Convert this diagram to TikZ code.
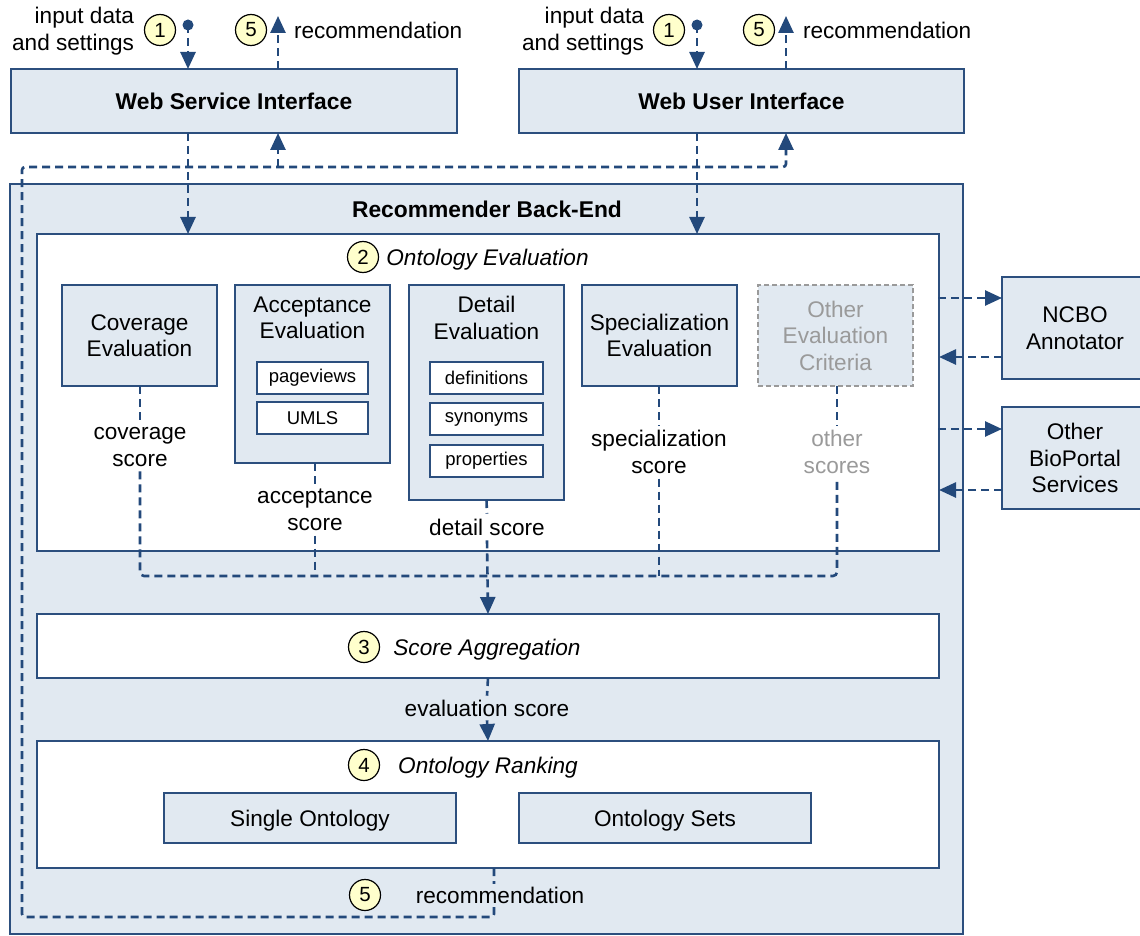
\documentclass[tikz,border=0pt]{standalone}
\usepackage{fontspec}
\setmainfont{Liberation Sans}
\usetikzlibrary{arrows.meta,calc}
\definecolor{bfill}{HTML}{E1E9F1}
\definecolor{bdr}{HTML}{2C4F7E}
\definecolor{arr}{HTML}{23497B}
\definecolor{numfill}{HTML}{FFFFCC}
\definecolor{grayt}{HTML}{9A9A9A}
\newcommand\fm{\fontsize{22.6}{26.5}\selectfont}
\newcommand\fb{\fontsize{22.8}{26.5}\selectfont\bfseries}
\newcommand\fsm{\fontsize{18.5}{22}\selectfont}
\begin{document}
\begin{tikzpicture}[x=1pt,y=-1pt,
  every node/.style={inner sep=0pt,outer sep=0pt},
  obox/.style={draw=bdr,fill=bfill,line width=2.4pt,anchor=north west,font=\fb},
  wbox/.style={draw=bdr,fill=white,line width=1.5pt,anchor=north west},
  gbox/.style={draw=bdr,fill=bfill,line width=1.5pt,anchor=north west,align=center,font=\fm},
  sbox/.style={draw=bdr,fill=white,line width=1.5pt,anchor=north west,font=\fsm,minimum height=32},
  num/.style={circle,draw=black,fill=numfill,line width=1.2pt,minimum size=31,font=\fontsize{20.5}{22}\selectfont},
  lbl/.style={align=center,font=\fm,inner sep=5pt},
  conn/.style={draw=arr,line width=2.6pt,dash pattern=on 8pt off 5pt},
  tip/.style={-{Triangle[width=15pt,length=17pt]}}
]
\useasboundingbox (0,0) rectangle (1140,936);

% top interfaces
\node[obox,minimum width=446,minimum height=64] (wsi) at (11,69) {Web Service Interface};
\node[obox,minimum width=445,minimum height=64] (wui) at (519,69) {Web User Interface};

% back-end
\node[obox,minimum width=953,minimum height=750] (be) at (10,184) {};
\node[font=\fb] (betitle) at (487,209) {Recommender Back-End};

% ontology evaluation
\node[wbox,minimum width=902,minimum height=317] (oe) at (37,234) {};
\node[num] (n2) at (363,257) {2};
\node[font=\fm\itshape] (oet) at (487.5,260) {Ontology Evaluation};

\node[gbox,minimum width=155,minimum height=101] (cov) at (62,285) {Coverage\\Evaluation};
\node[gbox,minimum width=155,minimum height=178] (acc) at (235,285) {};
\node[align=center,font=\fm] (acct) at (312.5,318) {Acceptance\\Evaluation};
\node[sbox,minimum width=111] (pv) at (257,362) {pageviews};
\node[sbox,minimum width=111] (umls) at (257,402) {UMLS};
\node[gbox,minimum width=155,minimum height=215] (det) at (409,285) {};
\node[align=center,font=\fm] (dett) at (486.5,318) {Detail\\Evaluation};
\node[sbox,minimum width=113] (defs) at (430,362) {definitions};
\node[sbox,minimum width=113] (syn) at (430,403) {synonyms};
\node[sbox,minimum width=113] (prop) at (430,445) {properties};
\node[gbox,minimum width=155,minimum height=101] (spec) at (582,285) {Specialization\\Evaluation};
\node[gbox,draw=grayt,dash pattern=on 5pt off 3pt,text=grayt,minimum width=155,minimum height=101] (oth) at (758,285) {Other\\Evaluation\\Criteria};

\node[lbl] (covl) at (140,447) {coverage\\score};
\node[lbl] (accl) at (315,510) {acceptance\\score};
\node[lbl] (detl) at (487,527) {detail score};
\node[lbl] (spl) at (659,452) {specialization\\score};
\node[lbl,text=grayt] (othl) at (837,452) {other\\scores};

% aggregation and ranking
\node[wbox,minimum width=902,minimum height=64] (agg) at (37,614) {};
\node[num] (n3) at (364,647) {3};
\node[font=\fm\itshape] (aggt) at (487,650) {Score Aggregation};
\node[lbl,fill=bfill,inner sep=4pt] (evl) at (487,708) {evaluation score};
\node[wbox,minimum width=902,minimum height=127] (rank) at (37,741) {};
\node[num] (n4) at (364,765) {4};
\node[font=\fm\itshape] (rankt) at (488,768) {Ontology Ranking};
\node[gbox,text depth=0pt,minimum width=292,minimum height=50] (single) at (164,793) {Single Ontology};
\node[gbox,text depth=0pt,minimum width=292,minimum height=50] (sets) at (519,793) {Ontology Sets};

% external services
\node[obox,font=\fm,align=center,minimum width=146,minimum height=102] (ncbo) at (1002,277) {NCBO\\Annotator};
\node[obox,font=\fm,align=center,minimum width=146,minimum height=102] (obs) at (1002,407) {Other\\BioPortal\\Services};

% top labels
\node[anchor=east,align=right,font=\fm] (in1) at (134,31) {input data\\and settings};
\node[num] (t1) at (160,30) {1};
\node[circle,fill=arr,minimum size=11] (d1) at (188,25) {};
\node[num] (t5) at (251,30) {5};
\node[anchor=west,font=\fm] (rec1) at (294,30) {recommendation};
\coordinate (u1) at (278,16);

\node[anchor=east,align=right,font=\fm] (in2) at (644,31) {input data\\and settings};
\node[num] (t1b) at (669,30) {1};
\node[circle,fill=arr,minimum size=11] (d2) at (697,25) {};
\node[num] (t5b) at (759,30) {5};
\node[anchor=west,font=\fm] (rec2) at (803,30) {recommendation};
\coordinate (u2) at (786,16);

% connectors top
\draw[conn,tip] (d1.center) -- (d1 |- wsi.north);
\draw[conn,tip] (u1 |- wsi.north) -- (u1);
\draw[conn,tip] (d2.center) -- (d2 |- wui.north);
\draw[conn,tip] (u2 |- wui.north) -- (u2);
\draw[conn,tip] (d1 |- wsi.south) -- (d1 |- oe.north);
\draw[conn,tip] (d2 |- wui.south) -- (d2 |- oe.north);

% score connectors
\coordinate (j) at (487,576);
\draw[conn] (cov.south -| covl) -- (covl.north);
\draw[conn] (acc.south -| accl) -- (accl.north);
\draw[conn] (det.south) -- (detl.north);
\draw[conn] (spec.south -| spl) -- (spl.north);
\draw[conn] (oth.south -| othl) -- (othl.north);
\draw[conn,rounded corners=4] (covl.south) |- (j) -| (othl.south);
\draw[conn] (accl.south) -- (accl.south |- j);
\draw[conn] (spl.south) -- (spl.south |- j);
\draw[conn,tip] (detl.south) -- (agg.north);
\draw[conn] (agg.south) -- (evl.north);
\draw[conn,tip] (evl.south) -- (rank.north);

% external connectors
\coordinate (e1) at (938,298);
\coordinate (e2) at (939,357);
\coordinate (e3) at (938,429);
\coordinate (e4) at (939,490);
\draw[conn,tip] (e1) -- (e1 -| ncbo.west);
\draw[conn,tip] (e2 -| ncbo.west) -- (e2);
\draw[conn,tip] (e3) -- (e3 -| obs.west);
\draw[conn,tip] (e4 -| obs.west) -- (e4);

% recommendation loop
\coordinate (r1) at (494,868);
\coordinate (c1) at (22,917);
\coordinate (c2) at (22,167);
\coordinate (br) at (278,167);
\draw[conn,tip,rounded corners=3] (r1) |- (c1) -- (c2) -| (u2 |- wui.south);
\draw[conn,tip] (br) -- (u1 |- wsi.south);
\node[font=\fm,fill=bfill,inner sep=3pt] (recb) at (500,895) {recommendation};
\node[num] (b5) at (365,895) {5};
\end{tikzpicture}
\end{document}
